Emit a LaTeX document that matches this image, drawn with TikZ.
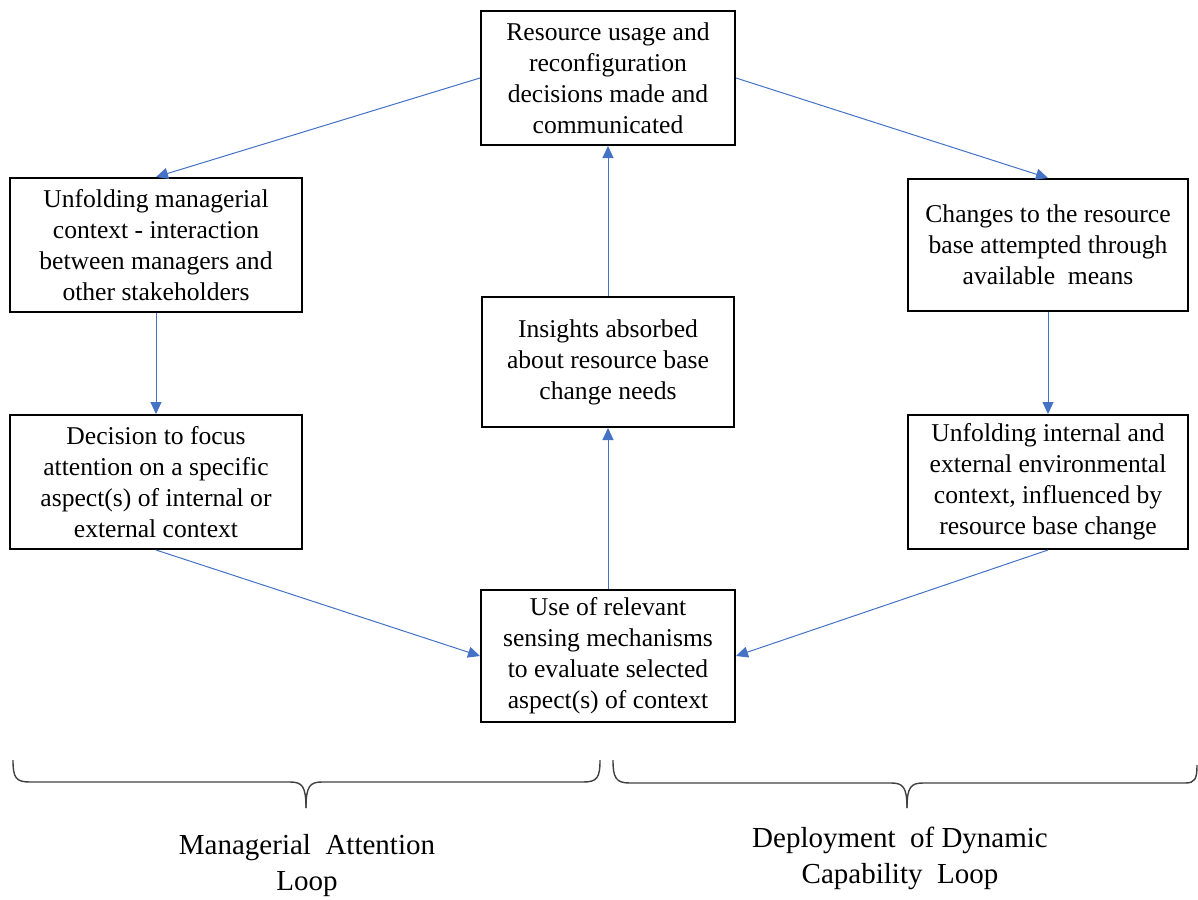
\documentclass[tikz,border=0pt]{standalone}
\usepackage{fontspec}
\setmainfont{Liberation Serif}
\usepackage{xcolor}
\usepackage{tikz}
\usetikzlibrary{arrows.meta,positioning}

\definecolor{arrowblue}{HTML}{4472C4}
\definecolor{bracegray}{HTML}{404040}

\tikzset{
  box/.style={draw=black, line width=1pt, align=center, inner sep=2pt,
    font=\fontsize{12.8}{15.5}\selectfont},
  flow/.style={draw=arrowblue, line width=0.5pt, -{Triangle[length=6pt,width=5.5pt]}},
  brace/.style={draw=bracegray, line width=0.7pt},
  looplabel/.style={align=center, font=\fontsize{14.5}{18}\selectfont}
}

\begin{document}
\begin{tikzpicture}[x=0.5pt, y=-0.5pt]

  \useasboundingbox (0,0) rectangle (1198,899);

  % Boxes
  \node[box, minimum width=127pt, minimum height=67pt] (res) at (608,78)
    {Resource usage and\\ reconfiguration\\ decisions made and\\ communicated};
  \node[box, minimum width=146pt, minimum height=67pt] (mgr) at (156,245)
    {Unfolding managerial\\ context - interaction\\ between managers and\\ other stakeholders};
  \node[box, minimum width=140pt, minimum height=66pt] (chg) at (1048,245)
    {Changes to the resource\\ base attempted through\\ available\ \ means};
  \node[box, minimum width=126pt, minimum height=65pt] (ins) at (608,362)
    {Insights absorbed\\ about resource base\\ change needs};
  \node[box, minimum width=146pt, minimum height=67pt] (foc) at (156,482)
    {Decision to focus\\ attention on a specific\\ aspect(s) of internal or\\ external context};
  \node[box, minimum width=140pt, minimum height=67pt] (env) at (1048,482)
    {Unfolding internal and\\ external environmental\\ context, influenced by\\ resource base change};
  \node[box, minimum width=127pt, minimum height=66pt] (sen) at (608,656)
    {Use of relevant\\ sensing mechanisms\\ to evaluate selected\\ aspect(s) of context};

  % Arrows
  \draw[flow] (res.west) -- (mgr.north);
  \draw[flow] (res.east) -- (chg.north);
  \draw[flow] (mgr.south) -- (foc.north);
  \draw[flow] (chg.south) -- (env.north);
  \draw[flow] (foc.south) -- (sen.west);
  \draw[flow] (env.south) -- (sen.east);
  \draw[flow] (sen.north) -- (ins.south);
  \draw[flow] (ins.north) -- (res.south);

  % Braces
  \draw[brace] (13,760) .. controls (13,778) and (16,782) .. (30,782) -- (290,782)
    .. controls (302,782) and (306,786) .. (306,808);
  \draw[brace] (600,760) .. controls (600,778) and (597,782) .. (583,782) -- (322,782)
    .. controls (310,782) and (306,786) .. (306,808);
  \draw[brace] (613,760) .. controls (613,778) and (616,783) .. (630,783) -- (891,783)
    .. controls (903,783) and (907,787) .. (907,808);
  \draw[brace] (1197,765) .. controls (1197,779) and (1195,783) .. (1185,783) -- (923,783)
    .. controls (911,783) and (907,787) .. (907,808);

  % Loop labels
  \node[looplabel] (mal) at (307,866) {Managerial\ \ Attention\\ Loop};
  \node[looplabel] (ddc) at (900,858) {Deployment\ \ of Dynamic\\ Capability\ \ Loop};

\end{tikzpicture}
\end{document}
